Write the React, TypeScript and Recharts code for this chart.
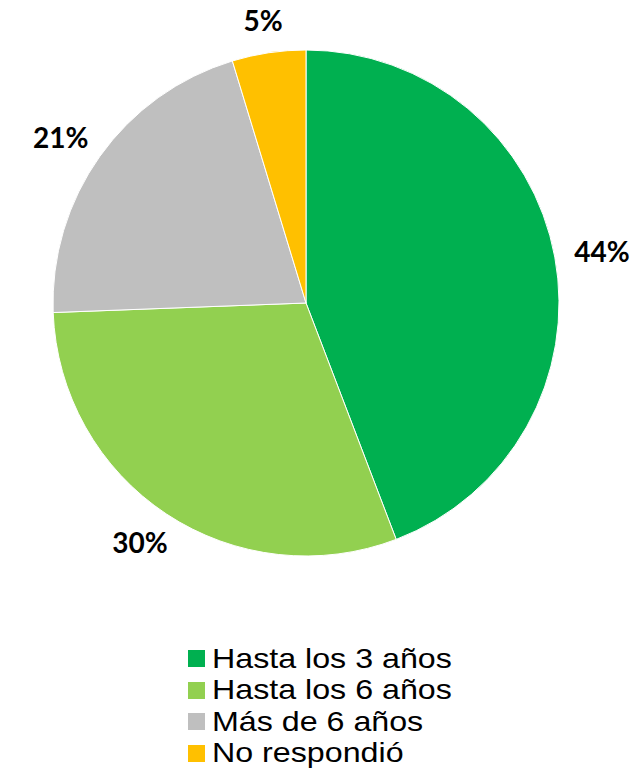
import { PieChart, Pie, Cell, Legend } from "recharts";

const categories = ["Hasta los 3 años", "Hasta los 6 años", "Más de 6 años", "No respondió"];
const shares = [44.2, 30.2, 20.9, 4.7];
const colors = ["#00B050", "#92D050", "#BFBFBF", "#FFC000"];

const data = categories.map((name, i) => ({ name, value: shares[i] }));

const RADIAN = Math.PI / 180;
const LABEL_SIZE = 28;

// excel-style "outside end": gap from the rim, then push the box out by its half size
const renderLabel = ({ cx, cy, midAngle, outerRadius, percent }: any) => {
  const text = `${Math.round(percent * 100)}%`;
  const cos = Math.cos(-midAngle * RADIAN);
  const sin = Math.sin(-midAngle * RADIAN);
  const w = LABEL_SIZE * 0.62 * text.length;
  const h = 22;
  const gap = 22;
  const x = cx + (outerRadius + gap) * cos + (w / 2) * cos;
  const y = cy + (outerRadius + gap) * sin + (h / 2) * sin;
  return (
    <text
      x={x}
      y={y}
      textAnchor="middle"
      dominantBaseline="central"
      fill="#000"
      fontFamily="Lato, sans-serif"
      fontWeight="bold"
      fontSize={LABEL_SIZE}
    >
      {text}
    </text>
  );
};

const renderLegend = ({ payload }: any) => (
  <div style={{ fontFamily: "'Liberation Sans', Arial, sans-serif", fontSize: 28, color: "#000" }}>
    {payload.map((entry: any, i: number) => (
      <div key={i} style={{ display: "flex", alignItems: "center", height: 31.5 }}>
        <span style={{ width: 17, height: 17, background: entry.color, marginRight: 7, display: "inline-block", flexShrink: 0 }} />
        <span style={{ display: "inline-block", transform: "scaleX(1.15)", transformOrigin: "left center", whiteSpace: "nowrap" }}>
          {entry.value}
        </span>
      </div>
    ))}
  </div>
);

export default function App() {
  return (
    <div style={{ width: 626, height: 762, background: "#fff" }}>
      <PieChart width={626} height={762} margin={{ top: 0, right: 0, bottom: 0, left: 0 }}>
        <Pie
          data={data}
          dataKey="value"
          nameKey="name"
          cx={298}
          cy={295}
          outerRadius={253}
          startAngle={90}
          endAngle={-270}
          stroke="#fff"
          strokeWidth={1}
          label={renderLabel}
          labelLine={false}
          isAnimationActive={false}
        >
          {data.map((d, i) => (
            <Cell key={d.name} fill={colors[i]} />
          ))}
        </Pie>
        <Legend
          layout="vertical"
          content={renderLegend}
          wrapperStyle={{ position: "absolute", left: 180, top: 635, width: 320 }}
        />
      </PieChart>
    </div>
  );
}
